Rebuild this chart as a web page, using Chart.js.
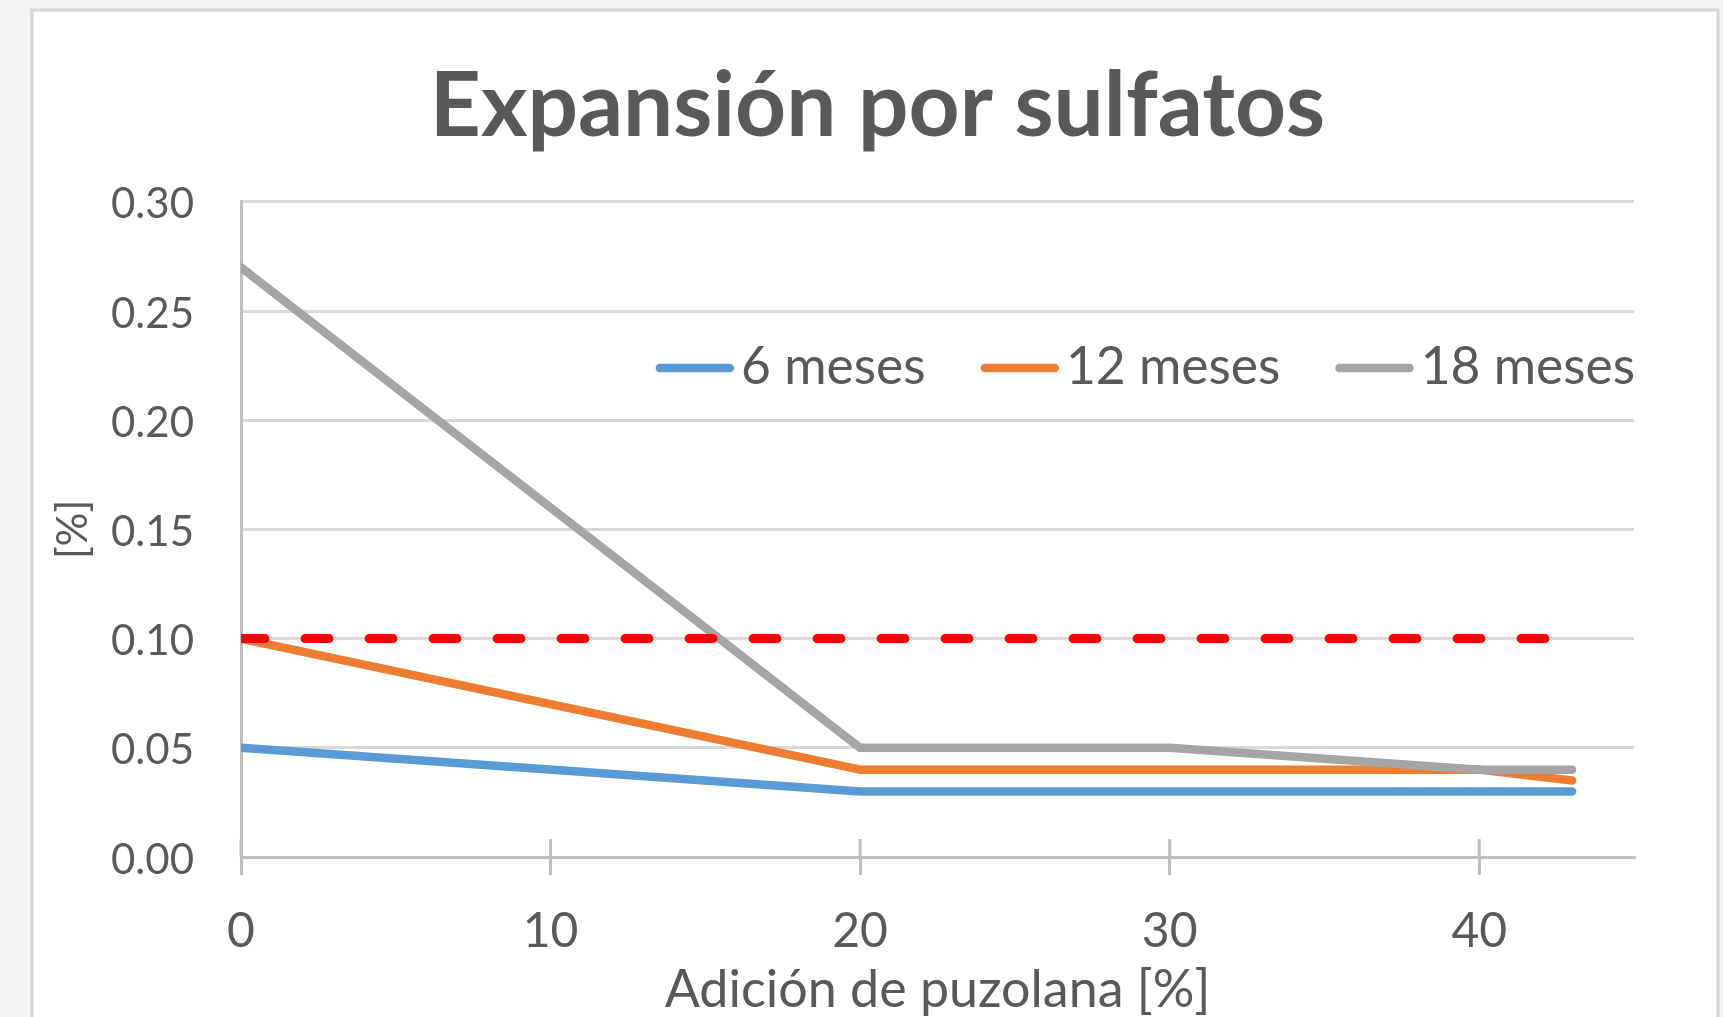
<!DOCTYPE html>
<html lang="es">
<head>
<meta charset="utf-8">
<title>Expansión por sulfatos</title>
<script src="https://cdn.jsdelivr.net/npm/chart.js@4.4.1/dist/chart.umd.min.js"></script>
<style>
  html, body { margin: 0; padding: 0; background: #f3f3f3; overflow: hidden; }
  #chart { display: block; }
</style>
</head>
<body>
<canvas id="chart" width="1723" height="1017"></canvas>
<script>
// Adición de puzolana [%]
const adicion = [0, 20, 30, 40, 43];
// Expansión [%] por edad de ensayo
const meses6 = [0.05, 0.03, 0.03, 0.03, 0.03];
const meses12 = [0.10, 0.04, 0.04, 0.04, 0.035];
const meses18 = [0.27, 0.05, 0.05, 0.04, 0.04];
// Límite de expansión
const limiteX = [0, 43];
const limiteY = [0.10, 0.10];
const seriesLabels = ['6 meses', '12 meses', '18 meses'];
const yTicks = [0, 0.05, 0.10, 0.15, 0.20, 0.25, 0.30];
const xTicks = [0, 10, 20, 30, 40];

const TEXT = '#595959';
const FONT = 'Lato';

function pts(xs, ys) { return xs.map((x, i) => ({ x: x, y: ys[i] })); }

// Page frame: light backdrop with a white bordered panel
const framePlugin = {
  id: 'frame',
  beforeDraw(chart) {
    const ctx = chart.ctx;
    ctx.save();
    ctx.fillStyle = '#f3f3f3';
    ctx.fillRect(0, 0, chart.width, chart.height);
    ctx.fillStyle = '#ffffff';
    ctx.fillRect(32, 10, 1686, 1020);
    ctx.strokeStyle = '#d6d6d6';
    ctx.lineWidth = 3;
    ctx.strokeRect(32, 10, 1686, 1020);
    ctx.restore();
  }
};

// Tick marks on the x axis cross the axis line (upper half)
const crossTicksPlugin = {
  id: 'crossTicks',
  afterDraw(chart) {
    const sx = chart.scales.x;
    const ctx = chart.ctx;
    ctx.save();
    ctx.strokeStyle = '#bfbfbf';
    ctx.lineWidth = 3;
    sx.ticks.forEach(t => {
      const px = sx.getPixelForValue(t.value);
      ctx.beginPath();
      ctx.moveTo(px, sx.top - 18);
      ctx.lineTo(px, sx.top);
      ctx.stroke();
    });
    ctx.restore();
  }
};

// Legend drawn inside the plot area, right aligned
const innerLegendPlugin = {
  id: 'innerLegend',
  afterDatasetsDraw(chart) {
    const ctx = chart.ctx;
    const area = chart.chartArea;
    const items = seriesLabels.map(l => chart.data.datasets.find(d => d.label === l));
    ctx.save();
    ctx.font = '51.5px ' + FONT;
    const lw = 8.5, lineLen = 70, textGap = 7, itemGap = 55;
    const cap = lw / 2;
    const widths = items.map(d => ctx.measureText(d.label).width);
    let total = 0;
    items.forEach((d, i) => { total += cap * 2 + lineLen + textGap + widths[i]; });
    total += itemGap * (items.length - 1);
    let x = area.right + 1 - total;
    const yLine = 368, yText = 384;
    items.forEach((d, i) => {
      ctx.strokeStyle = d.borderColor;
      ctx.lineWidth = lw;
      ctx.lineCap = 'round';
      ctx.beginPath();
      ctx.moveTo(x + cap, yLine);
      ctx.lineTo(x + cap + lineLen, yLine);
      ctx.stroke();
      x += cap * 2 + lineLen + textGap;
      ctx.fillStyle = TEXT;
      ctx.textBaseline = 'alphabetic';
      ctx.textAlign = 'left';
      ctx.fillText(d.label, x, yText);
      x += widths[i] + itemGap;
    });
    ctx.restore();
  }
};

const seriesBase = {
  borderWidth: 8.5,
  pointRadius: 0,
  borderCapStyle: 'round',
  borderJoinStyle: 'round',
  tension: 0,
  fill: false
};

new Chart(document.getElementById('chart'), {
  type: 'line',
  data: {
    datasets: [
      Object.assign({}, seriesBase, {
        label: 'Límite', data: pts(limiteX, limiteY),
        borderColor: '#ff0000', borderWidth: 9, borderDash: [24, 40], order: 0
      }),
      Object.assign({}, seriesBase, {
        label: seriesLabels[2], data: pts(adicion, meses18), borderColor: '#a5a5a5', order: 1
      }),
      Object.assign({}, seriesBase, {
        label: seriesLabels[1], data: pts(adicion, meses12), borderColor: '#ed7d31', order: 2
      }),
      Object.assign({}, seriesBase, {
        label: seriesLabels[0], data: pts(adicion, meses6), borderColor: '#5b9bd5', order: 3
      })
    ]
  },
  options: {
    responsive: false,
    devicePixelRatio: 1,
    animation: false,
    events: [],
    layout: { padding: { left: 32, right: 0, top: 0, bottom: 0 } },
    plugins: {
      legend: { display: false },
      tooltip: { enabled: false },
      title: {
        display: true,
        text: 'Expansión por sulfatos',
        color: TEXT,
        font: { family: FONT, size: 89, weight: 'bold', lineHeight: 1.2 },
        padding: { top: 54, bottom: 41 }
      }
    },
    scales: {
      x: {
        type: 'linear',
        min: 0,
        max: 45,
        afterFit(scale) { scale.height = 160; },
        afterBuildTicks(scale) { scale.ticks = xTicks.map(v => ({ value: v })); },
        ticks: {
          includeBounds: false,
          color: TEXT,
          font: { family: FONT, size: 48 },
          padding: 28,
          maxRotation: 0,
          callback: v => String(v)
        },
        grid: {
          drawOnChartArea: false,
          drawTicks: true,
          tickLength: 18,
          color: '#bfbfbf',
          lineWidth: 3
        },
        border: { display: true, color: '#bfbfbf', width: 3 },
        title: {
          display: true,
          text: 'Adición de puzolana [%]',
          color: TEXT,
          font: { family: FONT, size: 52, lineHeight: 1.0 },
          padding: { top: 0, bottom: 1 }
        }
      },
      y: {
        type: 'linear',
        position: 'left',
        min: 0,
        max: 0.30,
        afterFit(scale) { scale.width = 209; },
        afterBuildTicks(scale) { scale.ticks = yTicks.map(v => ({ value: v })); },
        ticks: {
          color: TEXT,
          font: { family: FONT, size: 42 },
          padding: 47,
          labelOffset: 3,
          callback: v => v.toFixed(2)
        },
        grid: {
          color: '#d9d9d9',
          lineWidth: 3,
          drawTicks: false
        },
        border: { display: true, color: '#bfbfbf', width: 3 },
        title: {
          display: true,
          text: '[%]',
          color: TEXT,
          font: { family: FONT, size: 42, lineHeight: 1.2 },
          padding: { top: 16, bottom: 0 }
        }
      },
      // empty right-hand spacer keeping the plot clear of the panel edge
      yRight: {
        type: 'linear',
        position: 'right',
        display: true,
        afterFit(scale) { scale.width = 89; },
        ticks: { display: false },
        grid: { display: false, drawOnChartArea: false, drawTicks: false },
        border: { display: false }
      }
    }
  },
  plugins: [framePlugin, crossTicksPlugin, innerLegendPlugin]
});
</script>
</body>
</html>
